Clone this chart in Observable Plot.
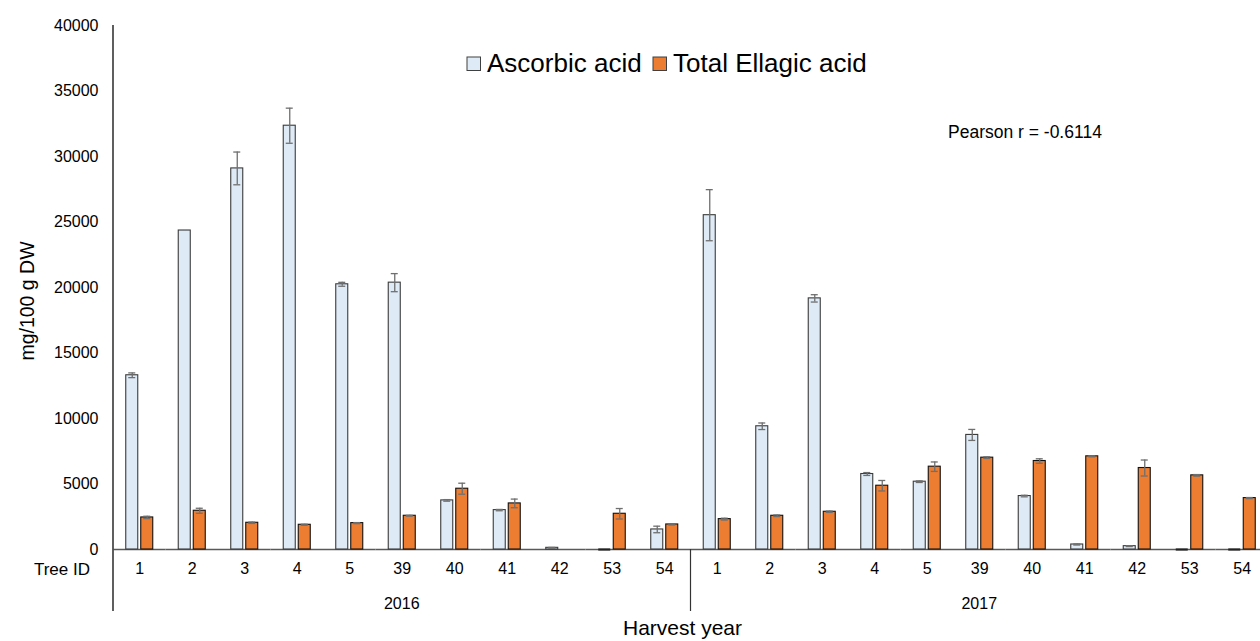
<!DOCTYPE html>
<html>
<head>
<meta charset="utf-8">
<script src="https://cdn.jsdelivr.net/npm/d3@7"></script>
<script src="https://cdn.jsdelivr.net/npm/@observablehq/plot@0.6"></script>
<style>
  html, body { margin: 0; padding: 0; background: #fff; overflow: hidden; }
  #chart svg { display: block; max-width: none !important; height: 641px !important; }
</style>
</head>
<body>
<div id="chart"></div>
<script>
// Harvest years and tree identifiers (two-level category axis)
const years = ["2016", "2017"];
const treeIds = ["1", "2", "3", "4", "5", "39", "40", "41", "42", "53", "54"];
const series = ["Ascorbic acid", "Total Ellagic acid"];

// mg/100 g DW, mean and error per tree
const ascorbic2016    = [13300, 24350, 29090, 32350, 20245, 20370, 3748, 3008, 128, 0, 1530];
const ascorbicErr2016 = [180, 0, 1250, 1340, 150, 690, 60, 50, 30, 0, 250];
const ellagic2016     = [2447, 2958, 2040, 1887, 2014, 2575, 4640, 3518, null, 2728, 1912];
const ellagicErr2016  = [90, 190, 50, 40, 40, 30, 420, 330, 0, 400, 40];

const ascorbic2017    = [25520, 9407, 19170, 5762, 5176, 8746, 4080, 382, 255, 0, 0];
const ascorbicErr2017 = [1950, 250, 280, 110, 60, 420, 60, 40, 30, 0, 0];
const ellagic2017     = [2320, 2575, 2881, 4869, 6322, 7010, 6755, 7113, 6220, 5660, 3926];
const ellagicErr2017  = [70, 60, 50, 400, 360, 60, 170, 40, 610, 60, 40];

const yTicks = [0, 5000, 10000, 15000, 20000, 25000, 30000, 35000, 40000];
const pearsonLabel = "Pearson r = -0.6114";

// Long-form table: one row per tree, year and compound
const valuesByYear = {
  "2016": [[ascorbic2016, ascorbicErr2016], [ellagic2016, ellagicErr2016]],
  "2017": [[ascorbic2017, ascorbicErr2017], [ellagic2017, ellagicErr2017]]
};
const keys = years.flatMap(y => treeIds.map(t => `${y}|${t}`));
const rows = [];
for (const y of years) {
  treeIds.forEach((t, i) => {
    series.forEach((s, j) => {
      const [vals, errs] = valuesByYear[y][j];
      rows.push({key: `${y}|${t}`, year: y, tree: t, series: s, value: vals[i], err: errs[i]});
    });
  });
}
const barRows = rows.filter(d => d.value != null);
const zeroRows = barRows.filter(d => d.value === 0);
const errRows = barRows.filter(d => d.err > 0);

const font = "'Liberation Sans', Arial, Helvetica, sans-serif";
const colors = ["#DEEBF7", "#ED7D31"];

const chart = Plot.plot({
  width: 1270,
  height: 641,
  marginLeft: 113,
  marginRight: 2,
  marginTop: 25,
  marginBottom: 92,
  style: {fontFamily: font, background: "#fff", color: "#000"},
  fx: {domain: keys, padding: 0, round: false},
  x: {domain: series, paddingInner: 0.2, paddingOuter: 0.85, round: false, axis: null},
  y: {domain: [0, 40000]},
  color: {domain: series, range: colors},
  marks: [
    Plot.ruleY([0], {stroke: "#595959", strokeWidth: 1.4}),
    Plot.barY(barRows, {
      fx: "key", x: "series", y: "value", fill: "series",
      stroke: d => d.series === series[0] ? "#3a3a3a" : "#111", strokeWidth: 1.1
    }),
    // zero-height bars still show their outline on the baseline
    Plot.tickY(zeroRows, {fx: "key", x: "series", y: "value", stroke: "#222", strokeWidth: 2.2}),
    Plot.ruleX(errRows, {
      fx: "key", x: "series", y1: d => d.value - d.err, y2: d => d.value + d.err,
      stroke: "#6f6f6f", strokeWidth: 1.3
    }),
    Plot.tickY(errRows, {fx: "key", x: "series", y: d => d.value + d.err, stroke: "#6f6f6f", strokeWidth: 1.3, inset: 2.5}),
    Plot.tickY(errRows, {fx: "key", x: "series", y: d => d.value - d.err, stroke: "#6f6f6f", strokeWidth: 1.3, inset: 2.5}),
    Plot.axisY({ticks: yTicks, tickSize: 0, tickPadding: 15, fontSize: 16, tickFormat: d => String(d), label: null}),
    Plot.axisFx({anchor: "bottom", tickSize: 0, tickPadding: 13, fontSize: 16, tickFormat: k => k.split("|")[1], label: null})
  ]
});

document.getElementById("chart").appendChild(chart);

// Frame lines, group labels, legend and annotation drawn with the plot's own scales
const svg = d3.select(chart);
const fx = chart.scale("fx");
const yScale = chart.scale("y");
const y0 = yScale.apply(0);
const yTop = yScale.apply(40000);
const bw = fx.bandwidth;
const left = fx.apply(keys[0]);
const right = fx.apply(keys[keys.length - 1]) + bw;

const deco = svg.append("g")
  .attr("font-family", font)
  .attr("fill", "#000")
  .attr("text-anchor", "start");

// vertical value axis, extended down through the category rows
deco.append("line")
  .attr("x1", left).attr("x2", left).attr("y1", yTop).attr("y2", y0 + 62)
  .attr("stroke", "#4d4d4d").attr("stroke-width", 1.8);

// separators between harvest years
years.slice(1).forEach(y => {
  const x = fx.apply(`${y}|${treeIds[0]}`);
  deco.append("line")
    .attr("x1", x).attr("x2", x).attr("y1", y0).attr("y2", y0 + 62)
    .attr("stroke", "#333").attr("stroke-width", 1.2);
});

// "Tree ID" row header
deco.append("text")
  .attr("x", left - 23).attr("y", y0 + 20).attr("dy", "0.35em")
  .attr("text-anchor", "end").attr("font-size", 17).text("Tree ID");

// year labels centred under their group of trees
years.forEach(y => {
  const x1 = fx.apply(`${y}|${treeIds[0]}`);
  const x2 = fx.apply(`${y}|${treeIds[treeIds.length - 1]}`) + bw;
  deco.append("text")
    .attr("x", (x1 + x2) / 2).attr("y", y0 + 54).attr("dy", "0.35em")
    .attr("text-anchor", "middle").attr("font-size", 16).text(y);
});

// axis titles
deco.append("text")
  .attr("x", (left + right) / 2 - 8).attr("y", 635)
  .attr("text-anchor", "middle").attr("font-size", 21).text("Harvest year");

deco.append("text")
  .attr("transform", `translate(34, ${(yTop + y0) / 2 + 14}) rotate(-90)`)
  .attr("text-anchor", "middle").attr("font-size", 19.5).text("mg/100 g DW");

// legend
const legendItems = [
  {label: series[0], x: 467},
  {label: series[1], x: 653}
];
legendItems.forEach((d, i) => {
  deco.append("rect")
    .attr("x", d.x).attr("y", 57).attr("width", 13.5).attr("height", 13.5)
    .attr("fill", colors[i]).attr("stroke", "#404040").attr("stroke-width", 1);
  deco.append("text")
    .attr("x", d.x + 20).attr("y", 72)
    .attr("text-anchor", "start")
    .attr("font-size", 26).text(d.label);
});

// correlation annotation
deco.append("text")
  .attr("x", 948).attr("y", 138)
  .attr("text-anchor", "start")
  .attr("font-size", 17.5).text(pearsonLabel);
</script>
</body>
</html>
